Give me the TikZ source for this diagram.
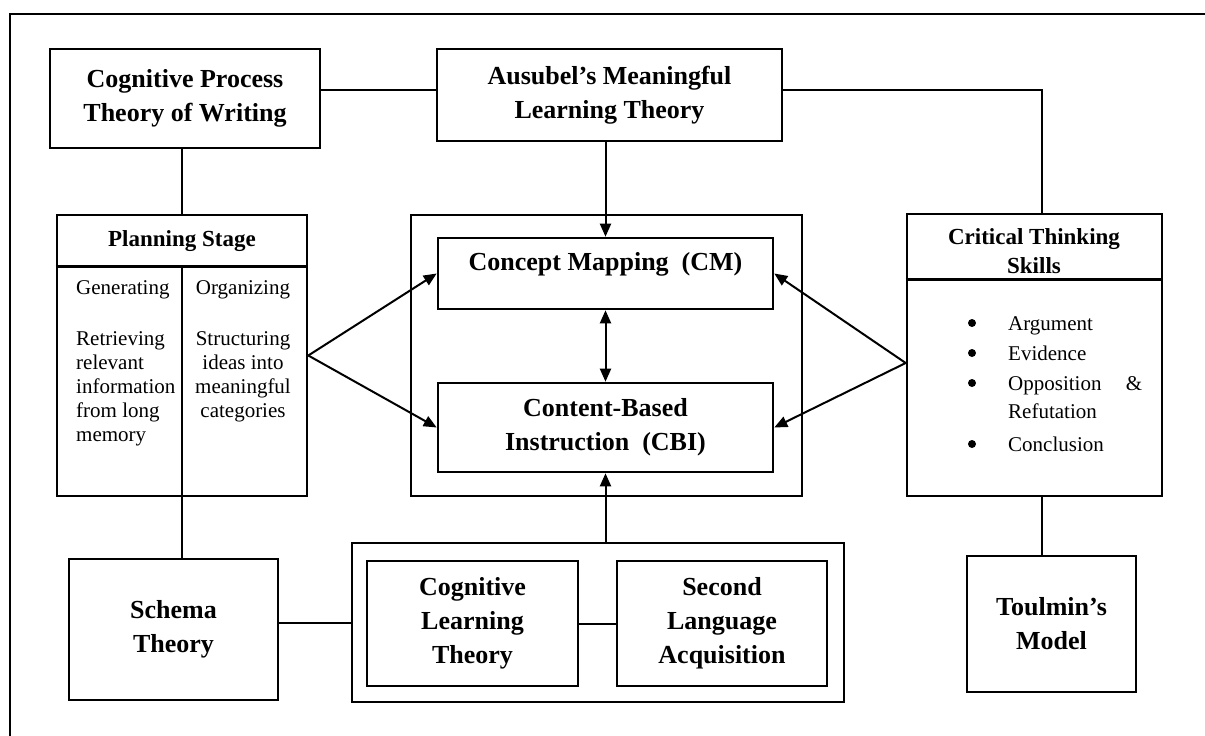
\documentclass[tikz,border=0pt]{standalone}
\usepackage{fontspec}
\setmainfont{Liberation Serif}
\usepackage{tikz}
\usetikzlibrary{arrows.meta, positioning}
\tikzset{
  box/.style={draw, line width=2.6pt, inner sep=0pt, align=center, font=\fontsize{26}{34}\selectfont\bfseries},
  sep/.style={line width=2.6pt},
  con/.style={line width=2pt},
  hd/.style={inner sep=0pt, align=center, font=\fontsize{23}{29}\selectfont\bfseries},
  txt/.style={inner sep=0pt, font=\fontsize{21}{24}\selectfont},
  dot/.style={circle, fill, inner sep=0pt, minimum size=8pt},
}

\begin{document}
\begin{tikzpicture}[x=1pt, y=-1pt, >={Triangle[length=13pt,width=11pt]}]
            \useasboundingbox (0,0) rectangle (1205,736);
            \draw[line width=1.4pt] (1205,14) --(10,14) --(10,736); %frame
            \coordinate (ytop) at (0,90);
            \coordinate (xct) at (1042,0);
            % top row
            \node[box, minimum width=270, minimum height=99] (cpt) at (185,98.5) {Cognitive Process\\Theory of Writing};
            \node[box, minimum width=345, minimum height=92] (aus) at (609.5,95) {Ausubel’s Meaningful\\Learning Theory};
            % planning stage
            \node[box, minimum width=250, minimum height=281] (plan) at (182,355.5) {};
            \draw[sep] ([yshift=-53pt]plan.north west) --([yshift=-53pt]plan.north east);
            \draw[sep] ([yshift=-53pt]plan.north) --(plan.south);
            \node[hd] (planhd) at (182,241) {Planning Stage};
            \node[txt, align=left, anchor=north west] (gen) at (76,280) {Generating\\[27pt]Retrieving\\relevant\\information\\from long\\memory};
            \node[txt, align=center, anchor=north] (org) at (243,280) {Organizing\\[27pt]Structuring\\ideas into\\meaningful\\categories};
            % middle
            \node[box, minimum width=391, minimum height=281] (mid) at (606.5,355.5) {};
            \node[box, minimum width=335, minimum height=71] (cm) at (605.5,273.5) {};
            \node[box, draw=none] (cmtxt) at ([yshift=9pt]cm.center) {Concept Mapping\ \ (CM)};
            \node[box, minimum width=335, minimum height=89] (cbi) at (605.5,427.5) {Content-Based\\Instruction\ \ (CBI)};
            % critical thinking
            \node[box, minimum width=255, minimum height=282] (ct) at (1034.5,355) {};
            \draw[sep] ([yshift=-67pt]ct.north west) --([yshift=-67pt]ct.north east);
            \node[hd] (cthd) at (1034,251.5) {Critical Thinking\\Skills};
            \foreach \y/\t [count=\i] in {330/Argument, 360/Evidence, 451/Conclusion}{
              \node[dot] (b\i) at (972,\y-7) {};
              \node[txt, anchor=base west] (it\i) at (1008,\y) {\t};
            }
            \node[dot] (b4) at (972,383) {};
            \node[txt, anchor=base west] (it4) at (1008,390) {\makebox[134pt][s]{Opposition\hfill\&}};
            \node[txt, anchor=base west] (it5) at (1008,418) {Refutation};
            % bottom row
            \node[box, minimum width=209, minimum height=141] (schema) at (173.5,629.5) {Schema\\Theory};
            \node[box, minimum width=492, minimum height=159] (grp) at (598,622.5) {};
            \node[box, minimum width=211, minimum height=125] (clt) at (472.5,623.5) {Cognitive\\Learning\\Theory};
            \node[box, minimum width=210, minimum height=125] (sla) at (722,623.5) {Second\\Language\\Acquisition};
            \node[box, minimum width=169, minimum height=136] (toul) at (1051.5,624) {Toulmin’s\\Model};
            % connectors
            \draw[con] (cpt.east |- ytop) --(aus.west |- ytop);
            \draw[con] (aus.east |- ytop) -| (xct |- ct.north);
            \draw[con] (cpt.south -| plan.north) --(plan.north);
            \draw[con] (plan.south) --(plan.south |- schema.north);
            \draw[con,->] (aus.south -| cm.north) --(cm.north);
            \draw[con,<->] (cm.south) --(cbi.north);
            \draw[con,->] (plan.east) --(cm.west);
            \draw[con,->] (plan.east) --(cbi.west);
            \coordinate (ctv) at ([yshift=-8pt]ct.west);
            \draw[con,->] (ctv) --(cm.east);
            \draw[con,->] (ctv) --(cbi.east);
            \draw[con] (schema.east |- grp.west) --(grp.west);
            \draw[con] (clt.east) --(sla.west);
            \draw[con,->] (cbi.south |- grp.north) --(cbi.south);
            \draw[con] (xct |- ct.south) --(xct |- toul.north);
        \end{tikzpicture}
\end{document}
